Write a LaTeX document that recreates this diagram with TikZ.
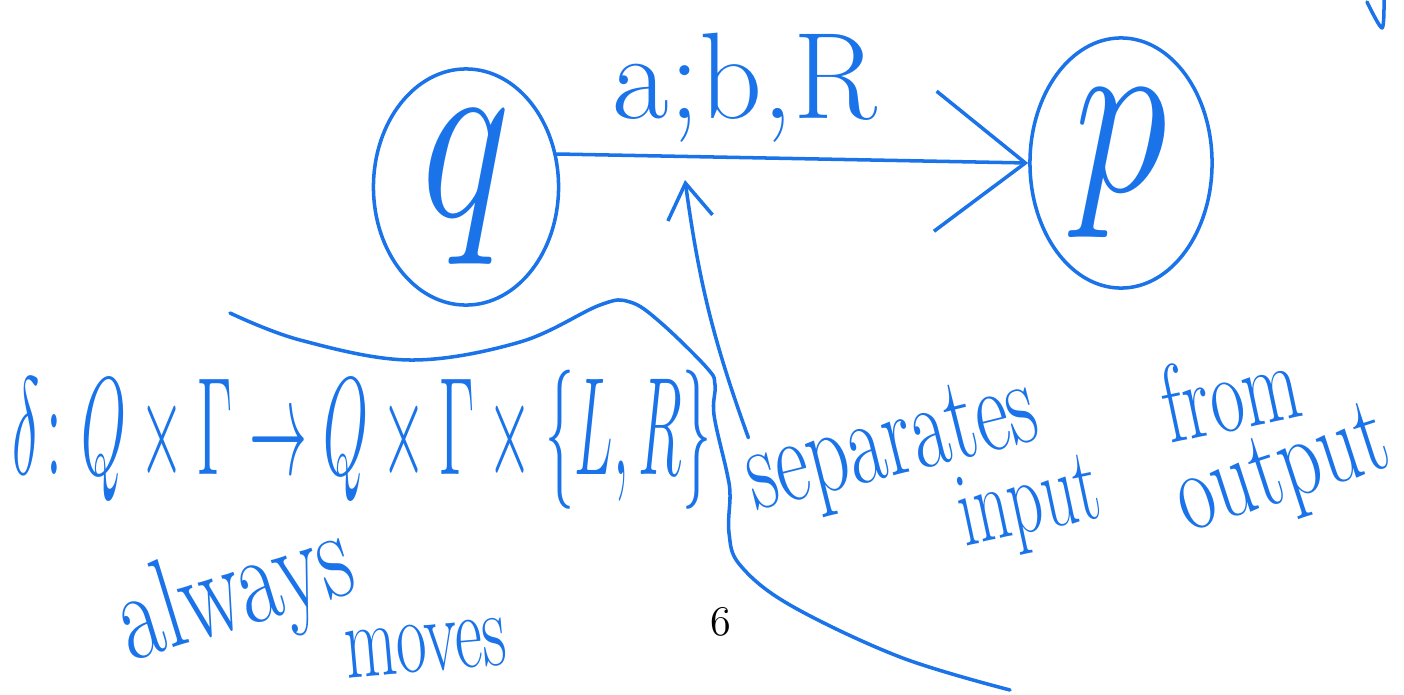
\RequirePackage{fix-cm}
\documentclass[tikz,border=0pt]{standalone}
\usepackage{amsmath,amssymb}
\usepackage{graphicx}
\usetikzlibrary{shapes.geometric,arrows.meta,positioning}
\definecolor{inkblue}{RGB}{26,115,232}
\newcommand{\tallink}[2]{\scalebox{1}[#1]{#2}}

\begin{document}
\begin{tikzpicture}[x=0.01cm,y=-0.01cm,
        ink/.style={inkblue, line width=1pt, line cap=round, line join=round},
        state/.style={ink, draw, ellipse, inner sep=0pt, font=\fontsize{54}{58}\selectfont},
        note/.style={text=inkblue, inner sep=0pt}]
        \useasboundingbox (0,0) rectangle (1404,694);

        % States
        \node[state, minimum width=1.85cm, minimum height=2.36cm] (q) at (466,187) {\tallink{1.3}{$q$}};
        \node[state, minimum width=1.82cm, minimum height=2.5cm] (p) at (1121,163) {\tallink{1.25}{$p$}};

        % Transition q -> p
        \draw[ink, -{Straight Barb[length=9mm,width=14mm]}] (q.20) -- (p.west);
        \node[note, font=\fontsize{35}{40}\selectfont] (lbl) at (745,88) {a;b,R};

        % Transition function
        \node[note, font=\fontsize{16.5}{20}\selectfont] (delta) at (362,440)
            {\tallink{2.4}{$\delta\colon Q\times\Gamma\to Q\times\Gamma\times\{L,R\}$}};

        % Notes
        \node[note, rotate=14, font=\fontsize{23}{26}\selectfont] (sep) at (893,450) {\tallink{1.5}{separates}};
        \node[note, rotate=12, font=\fontsize{19}{22}\selectfont] (in) at (1030,508) {\tallink{1.6}{input}};
        \node[note, rotate=12, font=\fontsize{21}{24}\selectfont] (from) at (1230,392) {\tallink{1.5}{from}};
        \node[note, rotate=18, font=\fontsize{23}{26}\selectfont] (out) at (1284,476) {\tallink{1.4}{output}};
        \node[note, rotate=17, font=\fontsize{26}{30}\selectfont] (always) at (236,596) {\tallink{1.4}{always}};
        \node[note, rotate=5, font=\fontsize{19}{22}\selectfont] (moves) at (426,648) {\tallink{1.6}{moves}};

        % Pointer to the semicolon
        \coordinate (semi) at (685,180);
        \draw[ink, -{Straight Barb[length=3.5mm,width=4.5mm]}] ([xshift=0.12cm]sep.north west) to[bend left=6] (semi);

        % Divider
        \draw[ink] plot[smooth, tension=0.6] coordinates {(230,313) (300,340) (410,360) (520,342) (600,305) (630,302) (660,322) (707,368) (715,385) (714,415) (727,473) (730,495) (729,533) (740,565) (790,605) (900,657) (1010,690)};

        % Cut-off stroke at the top
        \draw[ink] plot[smooth] coordinates {(1367,2) (1382,28) (1384,0)};

        % Page number
        \node[font=\fontsize{12}{14}\selectfont] (page) at (721,622) {6};
    \end{tikzpicture}
\end{document}
